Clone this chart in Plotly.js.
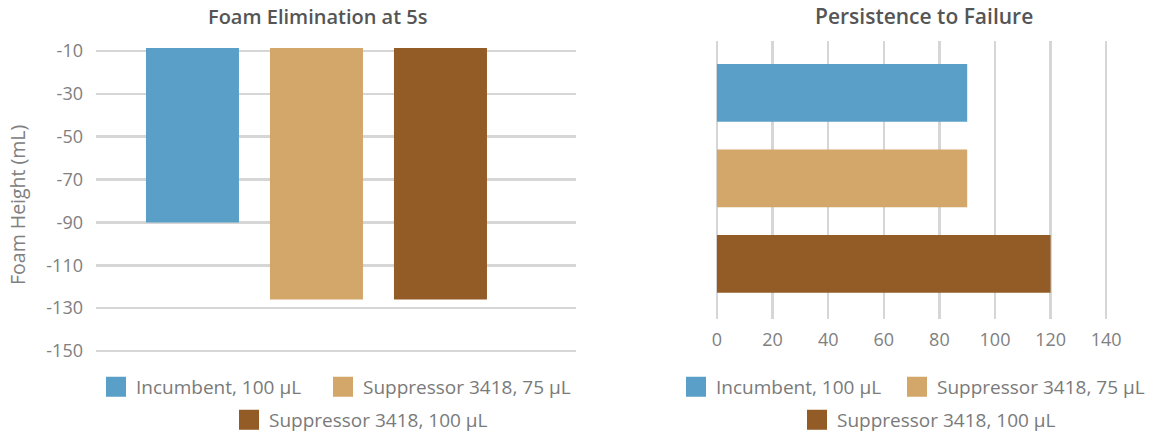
<!DOCTYPE html>
<html>
<head>
<meta charset="utf-8">
<script src="https://cdn.plot.ly/plotly-3.0.1.min.js"></script>
<style>html,body{margin:0;padding:0;background:#fff;}#chart{width:1155px;height:432px;}</style>
</head>
<body>
<div id="chart"></div>
<script>
// ---- data ----
const categories = ['Incumbent, 100 µL', 'Suppressor 3418, 75 µL', 'Suppressor 3418, 100 µL'];
const foamHeight = [-90, -126, -126];          // Foam Elimination at 5s (mL)
const persistence = [90, 90, 120];             // Persistence to Failure
const foamTicks = [-10, -30, -50, -70, -90, -110, -130, -150];
const foamTickLabels = ['-10', '-30', '-50', '-70', '-90', '-110', '-130', '-150'];
const persistTicks = [0, 20, 40, 60, 80, 100, 120, 140];
const leftTitle = 'Foam Elimination at 5s';
const rightTitle = 'Persistence to Failure';
const yTitle = 'Foam Height (mL)';

// ---- styles ----
const colors = ['#5A9FC8', '#D3A66A', '#935B26'];
const FONT = '"Open Sans", sans-serif';
const W = 1155, H = 432;
const M = {l: 96, r: 21, t: 41, b: 79};
const PW = W - M.l - M.r, PH = H - M.t - M.b;
const px = x => (x - M.l) / PW;
const py = y => (H - M.b - y) / PH;

const traces = [];
categories.forEach((c, i) => {
  traces.push({type: 'bar', x: [c], y: [foamHeight[i]], xaxis: 'x', yaxis: 'y',
    marker: {color: colors[i]}, width: 0.75, showlegend: false, name: c});
});
categories.forEach((c, i) => {
  traces.push({type: 'bar', orientation: 'h', y: [c], x: [persistence[i]], xaxis: 'x2', yaxis: 'y2',
    marker: {color: colors[i]}, width: 0.675, showlegend: false, name: c});
});
// legend entries
const legendPos = [
  [106, 387], [333, 387], [239, 420],
  [686, 387], [907, 387], [807, 420]
];
const legendNames = ['legend', 'legend2', 'legend3', 'legend4', 'legend5', 'legend6'];
const layoutLegends = {};
legendPos.forEach((p, k) => {
  const i = k % 3;
  traces.push({type: 'scatter', mode: 'markers', x: [null], y: [null],
    xaxis: k < 3 ? 'x' : 'x2', yaxis: k < 3 ? 'y' : 'y2',
    name: categories[i], legend: legendNames[k], showlegend: true,
    marker: {symbol: 'square', size: 16, color: colors[i], line: {width: 4, color: colors[i]}}});
  layoutLegends[legendNames[k]] = {
    orientation: 'h', x: px(p[0] - 10), xanchor: 'left', y: py(p[1]), yanchor: 'middle',
    font: {family: FONT, size: 19, color: '#7a7a7a'}, bgcolor: 'rgba(0,0,0,0)',
    borderwidth: 0, itemclick: false, itemdoubleclick: false
  };
});

const tickFont = {family: FONT, size: 18, color: '#808080'};
const layout = Object.assign({
  width: W, height: H,
  margin: Object.assign({autoexpand: false}, M),
  paper_bgcolor: '#fff', plot_bgcolor: 'rgba(0,0,0,0)',
  barmode: 'overlay', hovermode: false,
  font: {family: FONT, color: '#808080'},
  xaxis: {domain: [0, px(576)], type: 'category', range: [-0.778, 3.093],
    showticklabels: false, showgrid: false, zeroline: false, showline: false, ticks: ''},
  yaxis: {domain: [0, py(48)], range: [-150.93, -8.6], tickvals: foamTicks, ticktext: foamTickLabels,
    showgrid: true, gridcolor: '#d6d6d6', gridwidth: 2.5, zeroline: false, showline: false,
    ticks: '', ticklabelstandoff: 12, tickfont: tickFont},
  xaxis2: {domain: [px(714.2), 1], anchor: 'y2', range: [-1, 150], tickvals: persistTicks,
    showgrid: true, gridcolor: '#d6d6d6', gridwidth: 2.5, zeroline: false, showline: false,
    ticks: '', ticklabelstandoff: 8, tickfont: tickFont},
  yaxis2: {domain: [py(319), 1], anchor: 'x2', type: 'category', range: [2.644, -0.607],
    showticklabels: false, showgrid: false, zeroline: false, showline: false, ticks: ''},
  annotations: [
    {text: leftTitle, xref: 'paper', yref: 'paper', x: px(318), y: py(16), xanchor: 'center', yanchor: 'middle',
      showarrow: false, font: {family: FONT, size: 20, weight: 600, color: '#555555'}},
    {text: rightTitle, xref: 'paper', yref: 'paper', x: px(924), y: py(16), xanchor: 'center', yanchor: 'middle',
      showarrow: false, font: {family: FONT, size: 21, weight: 600, color: '#555555'}},
    {text: yTitle, xref: 'paper', yref: 'paper', x: px(17), y: py(205), xanchor: 'center', yanchor: 'middle',
      textangle: -90, showarrow: false, font: {family: FONT, size: 19.5, color: '#808080'}}
  ]
}, layoutLegends);

Plotly.newPlot('chart', traces, layout, {staticPlot: true, displayModeBar: false});
</script>
</body>
</html>
